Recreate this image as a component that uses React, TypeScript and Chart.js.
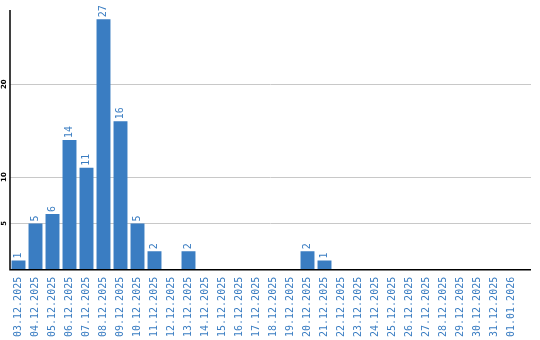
import React, { useEffect, useRef } from "react";
import { Chart, registerables } from "chart.js";

Chart.register(...registerables);

const categories = [
  "03.12.2025", "04.12.2025", "05.12.2025", "06.12.2025", "07.12.2025",
  "08.12.2025", "09.12.2025", "10.12.2025", "11.12.2025", "12.12.2025",
  "13.12.2025", "14.12.2025", "15.12.2025", "16.12.2025", "17.12.2025",
  "18.12.2025", "19.12.2025", "20.12.2025", "21.12.2025", "22.12.2025",
  "23.12.2025", "24.12.2025", "25.12.2025", "26.12.2025", "27.12.2025",
  "28.12.2025", "29.12.2025", "30.12.2025", "31.12.2025", "01.01.2026",
];

const counts = [
  1, 5, 6, 14, 11, 27, 16, 5, 2, 0,
  2, 0, 0, 0, 0, 0, 0, 2, 1, 0,
  0, 0, 0, 0, 0, 0, 0, 0, 0, 0,
];

const yTicks = [5, 10, 20];
const yMax = 28;

const BLUE = "#3a7dc2";
const EXTRA_RIGHT = 11;

const customPlugin = {
  id: "custom",
  beforeDatasetsDraw(chart: any) {
    const { ctx, chartArea, scales } = chart;
    const y = scales.y;
    ctx.save();
    ctx.strokeStyle = "#c8c8c8";
    ctx.lineWidth = 1;
    for (const v of yTicks) {
      const py = Math.round(y.getPixelForValue(v)) + 0.5;
      ctx.beginPath();
      ctx.moveTo(chartArea.left, py);
      ctx.lineTo(chartArea.right + EXTRA_RIGHT, py);
      ctx.stroke();
    }
    ctx.restore();
  },
  afterDatasetsDraw(chart: any) {
    const { ctx, chartArea, scales } = chart;
    const y = scales.y;
    ctx.save();
    ctx.strokeStyle = "#000";
    ctx.lineWidth = 1.5;
    ctx.beginPath();
    ctx.moveTo(chartArea.left, chartArea.top);
    ctx.lineTo(chartArea.left, chartArea.bottom);
    ctx.lineTo(chartArea.right + EXTRA_RIGHT, chartArea.bottom);
    ctx.stroke();
    ctx.fillStyle = "#000";
    ctx.font = "bold 7px 'DejaVu Sans'";
    ctx.textAlign = "center";
    ctx.textBaseline = "middle";
    for (const v of yTicks) {
      const py = y.getPixelForValue(v);
      ctx.save();
      ctx.translate(chartArea.left - 5.5, py);
      ctx.rotate(-Math.PI / 2);
      ctx.fillText(String(v), 0, 0);
      ctx.restore();
    }
    const meta = chart.getDatasetMeta(0);
    ctx.fillStyle = BLUE;
    ctx.font = "10px 'DejaVu Sans Mono'";
    ctx.textAlign = "left";
    ctx.textBaseline = "middle";
    meta.data.forEach((el: any, i: number) => {
      const v = counts[i];
      if (!v) return;
      ctx.save();
      ctx.translate(el.x, el.y - 2);
      ctx.rotate(-Math.PI / 2);
      ctx.fillText(String(v), 0, 0);
      ctx.restore();
    });
    ctx.restore();
  },
};

export default function App() {
  const ref = useRef<HTMLCanvasElement>(null);
  useEffect(() => {
    document.body.style.margin = "0";
    const chart = new Chart(ref.current!, {
      type: "bar",
      data: {
        labels: categories,
        datasets: [
          {
            data: counts,
            backgroundColor: BLUE,
            categoryPercentage: 1,
            barPercentage: 0.82,
          },
        ],
      },
      options: {
        responsive: false,
        animation: false,
        layout: { padding: { left: 10, top: 10, right: 20, bottom: -4 } },
        plugins: { legend: { display: false }, tooltip: { enabled: false } },
        scales: {
          x: {
            grid: { display: false, drawTicks: false },
            border: { display: false },
            ticks: {
              autoSkip: false,
              minRotation: 90,
              maxRotation: 90,
              padding: 7,
              color: BLUE,
              font: { family: "'DejaVu Sans Mono'", size: 10 },
            },
          },
          y: {
            display: false,
            min: 0,
            max: yMax,
          },
        },
      },
      plugins: [customPlugin],
    });
    return () => chart.destroy();
  }, []);
  return (
    <div style={{ width: 540, height: 340 }}>
      <canvas ref={ref} width={540} height={340} />
    </div>
  );
}
